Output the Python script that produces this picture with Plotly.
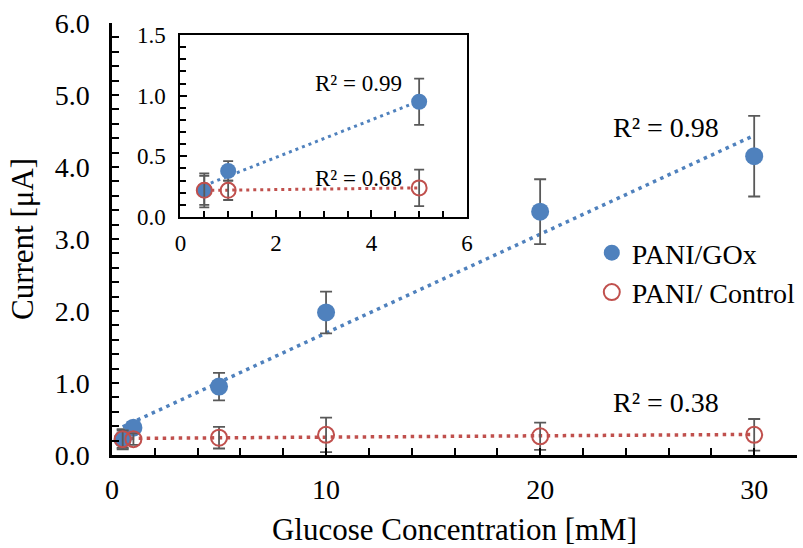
import numpy as np
import plotly.graph_objects as go

# ---- data ----
conc = [0.5, 1, 5, 10, 20, 30]
gox_current = [0.22, 0.38, 0.95, 1.98, 3.38, 4.15]
gox_err = [0.14, 0.08, 0.19, 0.29, 0.45, 0.56]
ctrl_current = [0.22, 0.22, 0.24, 0.28, 0.26, 0.28]
ctrl_err = [0.12, 0.08, 0.15, 0.24, 0.19, 0.22]
inset_n = 3  # inset shows the first three concentrations

r2_main_gox = "R² = 0.98"
r2_main_ctrl = "R² = 0.38"
r2_inset_gox = "R² = 0.99"
r2_inset_ctrl = "R² = 0.68"

BLUE = "#4F81BD"
RED = "#C0504D"
GREY = "#595959"
FONT = "Times New Roman, Liberation Serif, serif"


def fit_line(x, y):
    m, b = np.polyfit(x, y, 1)
    xs = np.array([min(x), max(x)])
    return xs, m * xs + b


fig = go.Figure()

# ---- main plot ----
for y, c in [(gox_current, BLUE), (ctrl_current, RED)]:
    xs, ys = fit_line(conc, y)
    fig.add_trace(go.Scatter(x=xs, y=ys, mode="lines", showlegend=False,
                             line=dict(color=c, width=3.5, dash="3.5px,4.5px"),
                             xaxis="x", yaxis="y", hoverinfo="skip"))

fig.add_trace(go.Scatter(x=conc, y=gox_current, mode="markers", name="PANI/GOx",
                         marker=dict(color=BLUE, size=18),
                         error_y=dict(type="data", array=gox_err, color=GREY,
                                      thickness=1.8, width=6),
                         xaxis="x", yaxis="y"))
fig.add_trace(go.Scatter(x=conc, y=ctrl_current, mode="markers", name="PANI/ Control",
                         marker=dict(color=RED, size=16, symbol="circle-open",
                                     line=dict(color=RED, width=2)),
                         error_y=dict(type="data", array=ctrl_err, color=GREY,
                                      thickness=1.8, width=6),
                         xaxis="x", yaxis="y"))

# ---- inset ----
ix = conc[:inset_n]
for y, c in [(gox_current[:inset_n], BLUE), (ctrl_current[:inset_n], RED)]:
    xs, ys = fit_line(ix, y)
    fig.add_trace(go.Scatter(x=xs, y=ys, mode="lines", showlegend=False,
                             line=dict(color=c, width=3, dash="3px,4px"),
                             xaxis="x2", yaxis="y2", hoverinfo="skip"))
fig.add_trace(go.Scatter(x=ix, y=gox_current[:inset_n], mode="markers", showlegend=False,
                         marker=dict(color=BLUE, size=16),
                         error_y=dict(type="data", array=gox_err[:inset_n], color=GREY,
                                      thickness=1.8, width=5),
                         xaxis="x2", yaxis="y2"))
fig.add_trace(go.Scatter(x=ix, y=ctrl_current[:inset_n], mode="markers", showlegend=False,
                         marker=dict(color=RED, size=15, symbol="circle-open",
                                     line=dict(color=RED, width=2)),
                         error_y=dict(type="data", array=ctrl_err[:inset_n], color=GREY,
                                      thickness=1.8, width=5),
                         xaxis="x2", yaxis="y2"))

ann_main = dict(font=dict(family=FONT, size=28, color="black"), showarrow=False)
ann_in = dict(font=dict(family=FONT, size=23, color="black"), showarrow=False)
annotations = [
    dict(text=r2_main_gox, x=25.9, y=4.55, xref="x", yref="y", **ann_main),
    dict(text=r2_main_ctrl, x=25.9, y=0.73, xref="x", yref="y", **ann_main),
    dict(text=r2_inset_gox, x=3.74, y=1.1, xref="x2", yref="y2", **ann_in),
    dict(text=r2_inset_ctrl, x=3.74, y=0.32, xref="x2", yref="y2", **ann_in),
]

W, H = 803, 548
L, R, T, B = 112, 0, 23, 93
pw, ph = W - L - R, H - T - B


def px_x(p):
    return (p - L) / pw


def px_y(p):
    return (H - B - p) / ph


axis_common = dict(showgrid=False, zeroline=False, showline=True, linecolor="black",
                   ticks="inside", tickcolor="black", ticklen=7, tickwidth=1.5)

fig.update_layout(
    width=W, height=H,
    margin=dict(l=L, r=R, t=T, b=B),
    paper_bgcolor="white", plot_bgcolor="white",
    font=dict(family=FONT, color="black"),
    showlegend=True,
    legend=dict(x=px_x(596), y=px_y(228), xanchor="left", yanchor="top",
                font=dict(family=FONT, size=28), bgcolor="rgba(0,0,0,0)",
                itemwidth=30, tracegroupgap=0),
    xaxis=dict(domain=[0, 1], range=[0, 32], dtick=10, tick0=0,
               linewidth=2.5, ticklabelstandoff=8,
               minor=dict(dtick=2, ticks="inside", ticklen=7, tickcolor="black", tickwidth=1.5),
               tickfont=dict(family=FONT, size=28),
               title=dict(text="Glucose Concentration [mM]", font=dict(family=FONT, size=31),
                          standoff=14),
               **axis_common),
    yaxis=dict(domain=[0, 1], range=[0, 6], dtick=1, tick0=0, tickformat=".1f",
               linewidth=2.5, ticklabelstandoff=14,
               minor=dict(dtick=0.2, ticks="inside", ticklen=7, tickcolor="black", tickwidth=1.5),
               tickfont=dict(family=FONT, size=28),
               title=dict(text="Current [μA]", font=dict(family=FONT, size=31), standoff=12),
               **axis_common),
    xaxis2=dict(domain=[px_x(181), px_x(470)], range=[0, 6], dtick=2, tick0=0,
                anchor="y2", mirror=True, linewidth=2, ticklabelstandoff=4,
                minor=dict(dtick=0.5, ticks="inside", ticklen=6, tickcolor="black", tickwidth=1.5),
                tickfont=dict(family=FONT, size=23),
                **axis_common),
    yaxis2=dict(domain=[px_y(217), px_y(35)], range=[0, 1.5], dtick=0.5, tick0=0,
                tickformat=".1f", anchor="x2", mirror=True, linewidth=2, ticklabelstandoff=8,
                minor=dict(dtick=0.1, ticks="inside", ticklen=6, tickcolor="black", tickwidth=1.5),
                tickfont=dict(family=FONT, size=23),
                **axis_common),
    annotations=annotations,
)

fig.write_html("out.html")
